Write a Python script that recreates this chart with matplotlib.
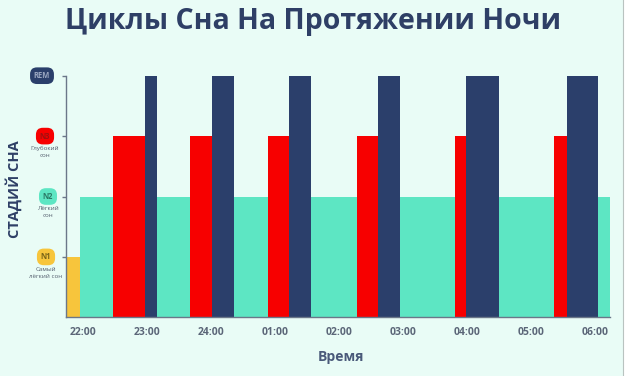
import matplotlib
matplotlib.use("Agg")
import matplotlib.pyplot as plt
from matplotlib.lines import Line2D

plt.rcParams['font.family'] = ['Open Sans', 'DejaVu Sans']

# ---- data (hours after 22:00) ----
time_labels = ["22:00", "23:00", "24:00", "01:00", "02:00", "03:00", "04:00", "05:00", "06:00"]
stage_levels = {"N1": 1, "N2": 2, "N3": 3, "REM": 4}

n1_start = [-0.25]
n1_end = [-0.05]
n2_start = [-0.05]
n2_end = [8.23]
n3_start = [0.46, 1.67, 2.88, 4.27, 5.81, 7.36]
n3_end = [0.97, 2.01, 3.22, 4.60, 5.98, 7.56]
rem_start = [0.97, 2.01, 3.22, 4.60, 5.98, 7.56]
rem_end = [1.15, 2.36, 3.56, 4.95, 6.50, 8.05]

stage_names = ["N1", "N2", "N3", "REM"]
stage_desc = ["Самый\nлёгкий сон", "Лёгкий\nсон", "Глубокий\nсон", ""]

BG = "#e9fcf6"
NAVY = "#2b3f6b"
RED = "#f70000"
TEAL = "#5de6c3"
YELLOW = "#f7c53c"
GRAY = "#6b7789"

fig = plt.figure(figsize=(6.28, 3.76), dpi=100, facecolor=BG)
ax = fig.add_axes([66/628, 1-317.3/376, (610-66)/628, (317.3-75.7)/376])
ax.set_facecolor(BG)

def draw(starts, ends, level, color):
    ax.bar(starts, [level]*len(starts), width=[e-s for s, e in zip(starts, ends)],
           align='edge', color=color, linewidth=0, zorder=2)

draw(n2_start, n2_end, stage_levels["N2"], TEAL)
draw(n1_start, n1_end, stage_levels["N1"], YELLOW)
draw(n3_start, n3_end, stage_levels["N3"], RED)
draw(rem_start, rem_end, stage_levels["REM"], NAVY)

ax.set_xlim(-0.27, 8.23)
ax.set_ylim(0, 4)

for s in ["top", "right"]:
    ax.spines[s].set_visible(False)
ax.spines["left"].set_color(GRAY)
ax.spines["bottom"].set_color(GRAY)
ax.spines["left"].set_linewidth(1.0)
ax.spines["bottom"].set_linewidth(1.0)

ax.set_xticks(range(len(time_labels)))
ax.set_xticklabels(time_labels, fontsize=7.5, fontweight='bold', color="#5b6678")
ax.tick_params(axis='x', length=0, pad=7)

ax.set_yticks([1, 2, 3, 4])
ax.set_yticklabels([])
ax.tick_params(axis='y', length=3, color=GRAY, width=1)

pill_colors = [YELLOW, TEAL, RED, NAVY]
pill_text_colors = ["#7a6418", "#2a7a66", "#a01010", "#9aa6c0"]
pill_x = [46/628, 48/628, 45/628, 42/628]
for i, name in enumerate(stage_names):
    lvl = stage_levels[name]
    yfig = fig.transFigure.inverted().transform(ax.transData.transform((0, lvl)))[1]
    fig.text(pill_x[i], yfig, name, ha='center', va='center', fontsize=5.5, fontweight='bold',
             color=pill_text_colors[i],
             bbox=dict(boxstyle="round,pad=0.5,rounding_size=0.9", fc=pill_colors[i], ec='none'))
    if stage_desc[i]:
        fig.text(pill_x[i], yfig - 0.026, stage_desc[i], ha='center', va='top', fontsize=4.5,
                 color="#55606f", linespacing=1.5)

fig.text(313/628, 1-22/376, "Циклы Сна На Протяжении Ночи", ha='center', va='center',
         fontsize=20.5, fontweight='bold', color="#2e3f66")
fig.text(14/628, 1-189/376, "СТАДИЙ СНА", ha='center', va='center', rotation=90,
         fontsize=10.5, fontweight='bold', color="#2e3f66")
fig.text(341/628, 1-357/376, "Время", ha='center', va='center',
         fontsize=10, fontweight='bold', color="#4a5a7a")

# frame at right edge
fig.add_artist(Line2D([623/628, 623/628], [0, 1], transform=fig.transFigure, color="#b9c3c0", lw=0.8))
fig.patches.append(matplotlib.patches.Rectangle((623.5/628, 0), 5/628, 1, transform=fig.transFigure,
                                                fc="white", ec='none', zorder=-1))

fig.savefig("out.png", dpi=100, facecolor=BG)
